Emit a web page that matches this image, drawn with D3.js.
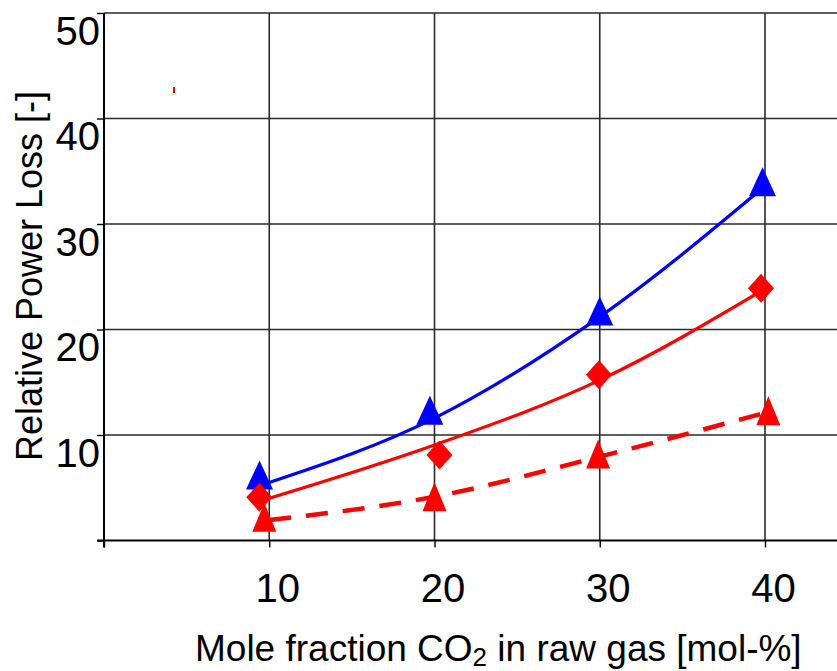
<!DOCTYPE html>
<html>
<head>
<meta charset="utf-8">
<script src="https://cdn.jsdelivr.net/npm/d3@7"></script>
<style>
  html, body { margin: 0; padding: 0; background: #fff; }
  svg { display: block; font-family: "Liberation Sans", Arial, sans-serif; }
</style>
</head>
<body>
<svg id="chart" width="837" height="671"></svg>
<script>
// values
const xTicks = [0, 10, 20, 30, 40];
const yTicks = [0, 10, 20, 30, 40, 50];

// the curves are drawn at the nominal CO2 fractions
const lineX = [10, 20, 30, 40];
const blueLine = [5.5, 11.6, 21.2, 33.6];
const redLine = [4.0, 9.05, 15.2, 23.85];
const redDashLine = [1.95, 4.15, 7.95, 12.1];

// the markers sit a little off the curves in the original
const blueTriX = [9.41, 19.72, 30.0, 39.85];
const blueTriY = [6.2, 12.35, 21.75, 34.0];
const diamondX = [9.4, 20.3, 29.95, 39.76];
const diamondY = [4.1, 8.1, 15.7, 23.9];
const redTriX = [9.7, 20.0, 29.9, 40.2];
const redTriY = [2.2, 4.15, 8.2, 12.3];

const W = 837, H = 671;
const svg = d3.select('#chart');

const x = d3.scaleLinear().domain([0, 40]).range([104, 765]);
const y = d3.scaleLinear().domain([0, 50]).range([540.5, 13]);

const gridColor = '#2a2a2a';

// horizontal grid
svg.append('g')
    .selectAll('line')
    .data(yTicks.filter(d => d > 0))
    .enter().append('line')
    .attr('x1', x(0)).attr('x2', W)
    .attr('y1', d => y(d)).attr('y2', d => y(d))
    .attr('stroke', gridColor)
    .attr('stroke-width', 1.6);

// vertical grid
svg.append('g')
    .selectAll('line')
    .data(xTicks.filter(d => d > 0))
    .enter().append('line')
    .attr('x1', d => x(d)).attr('x2', d => x(d))
    .attr('y1', y(0)).attr('y2', y(50))
    .attr('stroke', gridColor)
    .attr('stroke-width', 1.6);

// x axis
const gx = svg.append('g')
    .attr('transform', `translate(0,${y(0)})`)
    .call(d3.axisBottom(x).tickValues(xTicks).tickSize(7).tickSizeOuter(0)
        .tickFormat(d => d === 0 ? '' : d));
gx.select('.domain').remove();
gx.selectAll('.tick line').attr('stroke', '#000').attr('stroke-width', 1.4);
gx.selectAll('.tick text')
    .attr('font-size', 40)
    .attr('font-family', '"Liberation Sans", Arial, sans-serif')
    .attr('fill', '#000')
    .attr('x', 8).attr('y', 61.5).attr('dy', 0);
svg.append('line')
    .attr('x1', x(0) - 7).attr('x2', W)
    .attr('y1', y(0)).attr('y2', y(0))
    .attr('stroke', '#000').attr('stroke-width', 2);

// y axis
const gy = svg.append('g')
    .attr('transform', `translate(${x(0)},0)`)
    .call(d3.axisLeft(y).tickValues(yTicks).tickSize(7).tickSizeOuter(0)
        .tickFormat(d => d === 0 ? '' : d));
gy.select('.domain').remove();
gy.selectAll('.tick line').attr('stroke', '#000').attr('stroke-width', 1.4);
gy.selectAll('.tick text')
    .attr('font-size', 40)
    .attr('font-family', '"Liberation Sans", Arial, sans-serif')
    .attr('fill', '#000')
    .attr('x', -4).attr('y', 31).attr('dy', 0);
svg.append('line')
    .attr('x1', x(0)).attr('x2', x(0))
    .attr('y1', y(50)).attr('y2', y(0) + 7)
    .attr('stroke', '#000').attr('stroke-width', 2);

// stray red mark from the original
svg.append('rect')
    .attr('x', 173).attr('y', 87).attr('width', 2).attr('height', 6)
    .attr('fill', '#ff0000');

// curves
const line = vals => d3.line()
    .x((d, i) => x(lineX[i]))
    .y(d => y(d))
    .curve(d3.curveMonotoneX)(vals);

svg.append('path').attr('d', line(blueLine))
    .attr('fill', 'none').attr('stroke', '#0000ff').attr('stroke-width', 3.2);
svg.append('path').attr('d', line(redLine))
    .attr('fill', 'none').attr('stroke', '#ff0000').attr('stroke-width', 3.2);
svg.append('path').attr('d', line(redDashLine))
    .attr('fill', 'none').attr('stroke', '#ff0000').attr('stroke-width', 4.5)
    .attr('stroke-dasharray', '22,15');

// markers
const tri = (w, h) => `M0,${-h / 2}L${w / 2},${h / 2}L${-w / 2},${h / 2}Z`;
const diamond = (w, h) => `M0,${-h / 2}L${w / 2},0L0,${h / 2}L${-w / 2},0Z`;

function markers(xs, ys, shape, color) {
    svg.append('g')
        .selectAll('path')
        .data(xs.map((v, i) => [v, ys[i]]))
        .enter().append('path')
        .attr('transform', d => `translate(${x(d[0])},${y(d[1])})`)
        .attr('d', shape)
        .attr('fill', color);
}

markers(blueTriX, blueTriY, tri(27, 29), '#0000ff');
markers(diamondX, diamondY, diamond(26, 29), '#ff0000');
markers(redTriX, redTriY, tri(24, 29), '#ff0000');

// axis titles
const xt = svg.append('text')
    .attr('x', 195).attr('y', 661)
    .attr('font-size', 37)
    .attr('fill', '#000');
xt.append('tspan').text('Mole fraction CO');
xt.append('tspan').attr('font-size', 26).attr('dy', 5).text('2');
xt.append('tspan').attr('dy', -5).text(' in raw gas [mol-%]');

svg.append('text')
    .attr('transform', 'translate(42,276) rotate(-90)')
    .attr('text-anchor', 'middle')
    .attr('font-size', 36)
    .attr('fill', '#000')
    .text('Relative Power Loss [-]');
</script>
</body>
</html>
